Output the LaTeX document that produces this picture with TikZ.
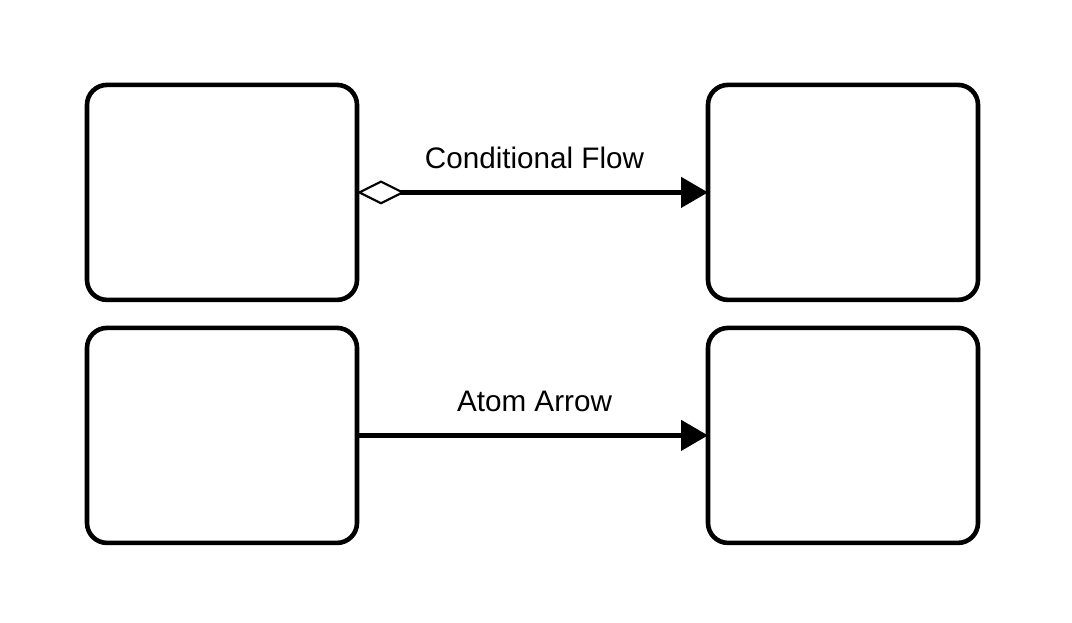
\documentclass[tikz,border=0pt]{standalone}
\usepackage{fontspec}
\setmainfont{Liberation Sans}
\usepackage{tikz}
\usepackage{xcolor}
\usetikzlibrary{positioning,arrows.meta}
\definecolor{lineblk}{HTML}{000000}
\tikzset{
  blk/.style={draw=lineblk, rounded corners=0.5cm, line width=0.115cm, outer sep=0pt,
    minimum width=6.75cm, minimum height=5.375cm, fill=white},
  wire/.style={draw=lineblk, line width=0.115cm},
  lbl/.style={font=\fontsize{21.1}{24}\selectfont, inner sep=0pt},
  tipD/.tip={Diamond[open,fill=white,length=1.2cm,width=0.6cm,line width=1.5pt]},
  tipT/.tip={Triangle[length=0.675cm,width=0.75cm]},
}

\begin{document}
\begin{tikzpicture}

\useasboundingbox (0,0) rectangle (26.8,-15.55);

% ---- boxes ----
\node[blk] (srcA) at (5.55,-4.81) {};
\node[blk, right=8.775cm of srcA] (dstA) {};
\node[blk, below=0.7cm of srcA] (srcB) {};
\node[blk, below=0.7cm of dstA] (dstB) {};

% ---- connectors ----
\draw[wire, tipD-tipT] (srcA.east) -- node[lbl, midway, above=0.54cm, xshift=0.05cm] (labA) {Conditional Flow} (dstA.west);
\draw[wire, -tipT] (srcB.east) -- node[lbl, midway, above=0.54cm, xshift=0.05cm] (labB) {Atom Arrow} (dstB.west);

\end{tikzpicture}
\end{document}
